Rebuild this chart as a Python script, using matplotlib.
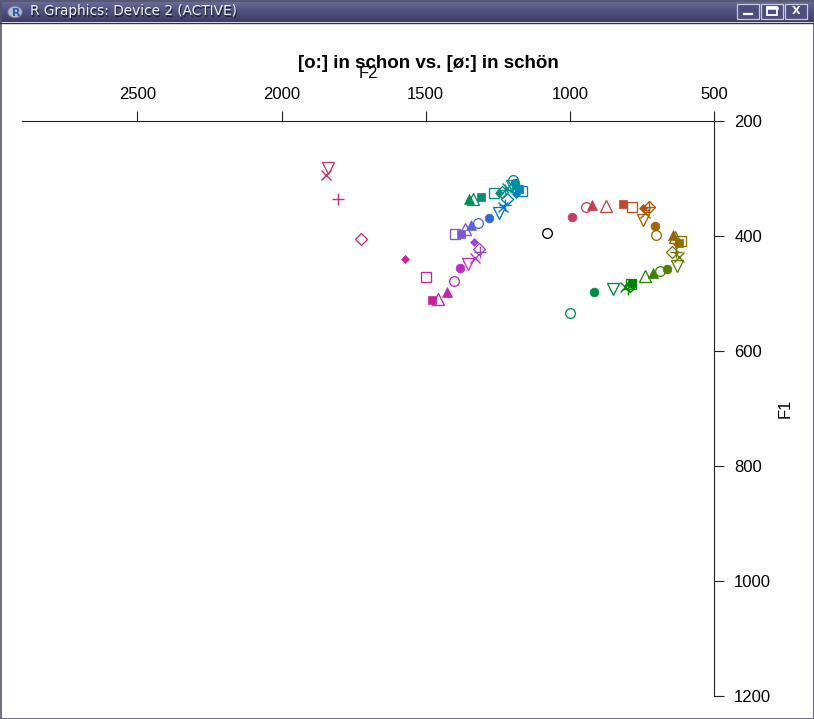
import numpy as np
import matplotlib
matplotlib.use('Agg')
import matplotlib.pyplot as plt
from matplotlib.colors import LinearSegmentedColormap
from matplotlib.patches import Rectangle, Ellipse

plt.rcParams['font.family'] = ['Liberation Sans', 'DejaVu Sans']

# [ø:] in schön (left trajectory), F2 / F1 in Hz
f2_schoen = [1838, 1845, 1803, 1724, 1571, 1498, 1477, 1457, 1425, 1401, 1380, 1353,
             1328, 1311, 1315, 1332, 1398, 1377, 1363, 1342, 1318, 1280, 1245, 1231,
             1224, 1217, 1186, 1166, 1176, 1183, 1186, 1197, 1190, 1200, 1217, 1224,
             1235, 1245, 1263, 1308, 1335, 1349]
f1_schoen = [282, 294, 336, 405, 440, 471, 511, 510, 497, 478, 456, 449,
             438, 428, 423, 410, 397, 397, 388, 381, 377, 369, 360, 350,
             346, 336, 327, 322, 318, 313, 310, 303, 308, 313, 317, 320,
             323, 325, 325, 332, 336, 336]

# [o:] in schon (right trajectory)
f2_schon = [999, 916, 850, 808, 798, 791, 784, 788, 784, 739, 711, 687, 663, 628,
            621, 632, 646, 628, 614, 621, 635, 642, 701, 705, 746, 739, 725, 725,
            746, 784, 815, 874, 923, 944, 992]
f1_schon = [534, 497, 492, 489, 492, 487, 485, 483, 482, 470, 464, 461, 457, 452,
            437, 428, 428, 414, 409, 412, 402, 398, 398, 383, 372, 360, 350, 350,
            351, 350, 344, 348, 346, 350, 367]

# single black point
f2_extra = [1079]
f1_extra = [395]

x_ticks = [2500, 2000, 1500, 1000, 500]
y_ticks = [200, 400, 600, 800, 1000, 1200]

# R style symbol cycle
pch_cycle = ['v', 'x', '+', 'D', 'd18', 's', 's15', '^', '^17', 'o', 'o16']
sym = {
    'v': ('v', 8, False), 'x': ('x', 7, None), '+': ('+', 8.5, None),
    'D': ('D', 6.0, False), 'd18': ('D', 4.0, True), 's': ('s', 6.5, False),
    's15': ('s', 6.2, True), '^': ('^', 8, False), '^17': ('^', 7.5, True),
    'o': ('o', 7, False), 'o16': ('o', 6.3, True),
}


def hcl(h, c, l):
    # polar Luv -> sRGB (like R's hcl)
    h = np.deg2rad(h)
    u_, v_ = c * np.cos(h), c * np.sin(h)
    xn, yn, zn = 95.047, 100.0, 108.883
    un = 4 * xn / (xn + 15 * yn + 3 * zn)
    vn = 9 * yn / (xn + 15 * yn + 3 * zn)
    y = yn * ((l + 16) / 116) ** 3 if l > 8 else yn * l / 903.3
    u = u_ / (13 * l) + un
    v = v_ / (13 * l) + vn
    x = 9 * y * u / (4 * v)
    z = -x / 3 - 5 * y + 3 * y / v
    m = np.array([[3.2406, -1.5372, -0.4986],
                  [-0.9689, 1.8758, 0.0415],
                  [0.0557, -0.2040, 1.0570]])
    rgb = m @ (np.array([x, y, z]) / 100)
    rgb = np.clip(rgb, 0, 1)
    rgb = np.where(rgb <= 0.0031308, 12.92 * rgb, 1.055 * rgb ** (1 / 2.4) - 0.055)
    return tuple(np.clip(rgb, 0, 1))


fig = plt.figure(figsize=(8.14, 7.19), dpi=100)

# window chrome
bg = fig.add_axes([0, 0, 1, 1], zorder=0)
bg.set_xlim(0, 814)
bg.set_ylim(719, 0)
bg.axis('off')
cm = LinearSegmentedColormap.from_list('bar', ['#72729e', '#52527f', '#3c3c66'])
bg.imshow(np.linspace(0, 1, 50).reshape(-1, 1), cmap=cm, extent=(0, 814, 22.5, 0),
          aspect='auto')
bg.add_patch(Rectangle((0.5, 0.5), 813, 718, fill=False, ec='#55556a', lw=1.2))
bg.plot([0, 814], [22.5, 22.5], color='#30304a', lw=1)
bg.add_patch(Ellipse((15, 12), 14, 11, fc='#b8bcc8', ec='#8890a8', lw=0.6))
bg.text(16, 13, 'R', color='#2a5db0', fontsize=8, fontweight='bold',
        ha='center', va='center', family='DejaVu Sans')
bg.text(31, 12.5, 'R Graphics: Device 2 (ACTIVE)', color='#202030', fontsize=9.8,
        va='center', family='DejaVu Sans')
bg.text(30, 11.5, 'R Graphics: Device 2 (ACTIVE)', color='#f0f0f6', fontsize=9.8,
        va='center', family='DejaVu Sans')
for bx, glyph in [(737, 'min'), (761, 'max'), (785, 'X')]:
    bg.add_patch(Rectangle((bx, 3.5), 22, 15, fc='#4e4e7c', ec='#c8c8dc', lw=0.9))
    if glyph == 'min':
        bg.plot([bx + 7, bx + 15], [14, 14], color='white', lw=1.6)
    elif glyph == 'max':
        bg.add_patch(Rectangle((bx + 6, 6.5), 10, 8, fill=False, ec='white', lw=1.3))
        bg.plot([bx + 6, bx + 16], [7.5, 7.5], color='white', lw=1.8)
    else:
        bg.text(bx + 11, 11.5, 'X', color='white', fontsize=8, fontweight='bold',
                ha='center', va='center', family='DejaVu Sans')

# plot
ax = fig.add_axes([22 / 814, 1 - 696 / 719, 692 / 814, 575 / 719], zorder=1)
ax.set_facecolor('none')
ax.set_xlim(2900, 500)
ax.set_ylim(1200, 200)

f2_all = f2_schoen + f2_schon
f1_all = f1_schoen + f1_schon
n = len(f2_all)
for i in range(n):
    col = hcl((355 - i * 360 / n) % 360, 95, 47)
    mk, ms, filled = sym[pch_cycle[i % len(pch_cycle)]]
    if filled is None:
        ax.plot(f2_all[i], f1_all[i], marker=mk, ms=ms, color=col, mew=1.0,
                ls='none', clip_on=False)
    elif filled:
        ax.plot(f2_all[i], f1_all[i], marker=mk, ms=ms, mfc=col, mec=col, mew=0.5,
                ls='none', clip_on=False)
    else:
        ax.plot(f2_all[i], f1_all[i], marker=mk, ms=ms, mfc='none', mec=col,
                mew=0.95, ls='none', clip_on=False)
ax.plot(f2_extra, f1_extra, marker='o', ms=7, mfc='none', mec='black', mew=0.95,
        ls='none')

for s in ['left', 'bottom']:
    ax.spines[s].set_visible(False)
for s in ['top', 'right']:
    ax.spines[s].set_linewidth(0.8)
    ax.spines[s].set_color('#222222')
ax.xaxis.tick_top()
ax.yaxis.tick_right()
ax.set_xticks(x_ticks)
ax.set_yticks(y_ticks)
ax.set_xticklabels([str(t) for t in x_ticks])
ax.set_yticklabels([str(t) for t in y_ticks])
ax.tick_params(axis='x', direction='out', length=7.5, width=0.8, pad=6.5, labelsize=12,
               color='#222222')
ax.tick_params(axis='y', direction='out', length=7, width=0.8, pad=7.5, labelsize=12,
               color='#222222')

fig.text(428 / 814, 1 - 64 / 719, '[o:] in schon vs. [ø:] in schön', ha='center',
         va='center', fontsize=13.5, fontweight='bold')
fig.text(368 / 814, 1 - 73 / 719, 'F2', ha='center', va='center', fontsize=12)
fig.text(785 / 814, 1 - 408 / 719, 'F1', ha='center', va='center', fontsize=12,
         rotation=90)

fig.savefig('out.png', dpi=100, facecolor='white')
